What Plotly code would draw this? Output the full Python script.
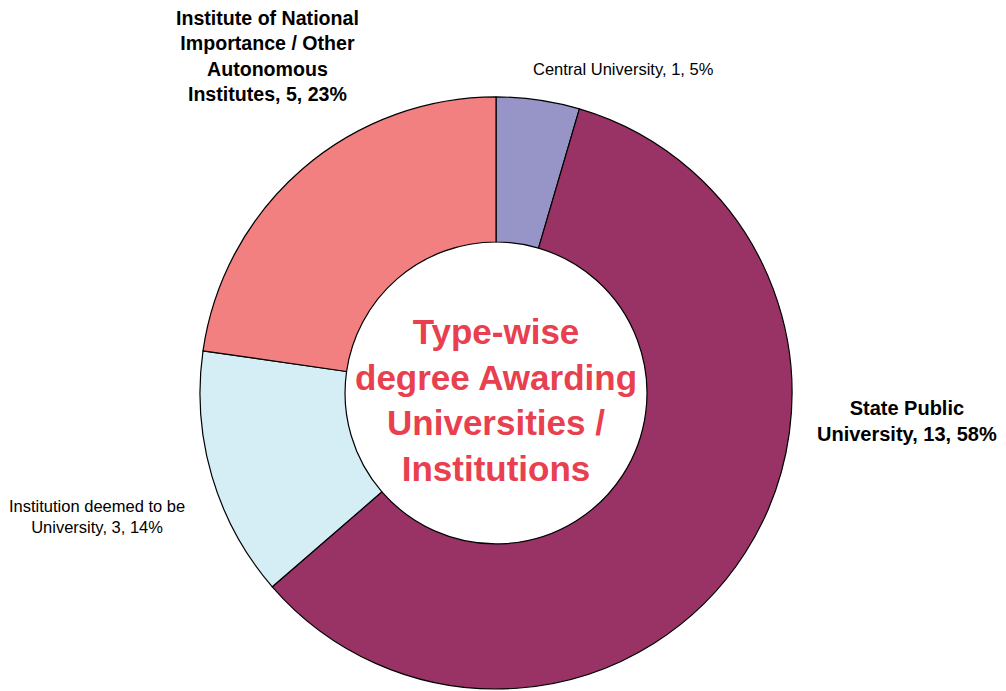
import plotly.graph_objects as go

categories = ["Central University", "State Public University",
              "Institution deemed to be University",
              "Institute of National Importance / Other Autonomous Institutes"]
label_lines = ["Central University, 1, 5%",
               "State Public<br>University, 13, 58%",
               "Institution deemed to be<br>University, 3, 14%",
               "Institute of National<br>Importance / Other<br>Autonomous<br>Institutes, 5, 23%"]
counts = [1, 13, 3, 5]
colors = ["#9795C8", "#993366", "#D5EDF4", "#F28080"]
center_title = "Type-wise<br>degree Awarding<br>Universities /<br>Institutions"

fig = go.Figure()
fig.add_trace(go.Pie(
    labels=categories, values=counts, sort=False, direction="clockwise",
    rotation=0, hole=0.51, textinfo="none", hoverinfo="label+value+percent",
    marker=dict(colors=colors, line=dict(color="#000000", width=1.2)),
    domain=dict(x=[0.1908, 0.7794], y=[0.0145, 0.8713]),
    showlegend=False,
))

label_pos = [(0.6123, 0.9117, 16.5, False),
             (0.8936, 0.4023, 20, True),
             (0.0885, 0.2648, 16.5, False),
             (0.2575, 0.9300, 19.6, True)]
anns = []
for txt, (x, y, s, b) in zip(label_lines, label_pos):
    anns.append(dict(x=x, y=y, xref="paper", yref="paper", text=f"<b>{txt}</b>" if b else txt,
                     showarrow=False, xanchor="center", yanchor="middle", align="center",
                     font=dict(family="Liberation Sans, Arial", size=s, color="#000000")))
anns.append(dict(x=0.4851, y=0.4334, xref="paper", yref="paper", text=f"<b>{center_title}</b>",
                 showarrow=False, xanchor="center", yanchor="middle", align="center",
                 font=dict(family="Liberation Sans, Arial", size=35, color="#E8404E")))

fig.update_layout(width=1006, height=691, margin=dict(l=0, r=0, t=0, b=0),
                  paper_bgcolor="white", plot_bgcolor="white", annotations=anns)
fig.write_html("out.html")
